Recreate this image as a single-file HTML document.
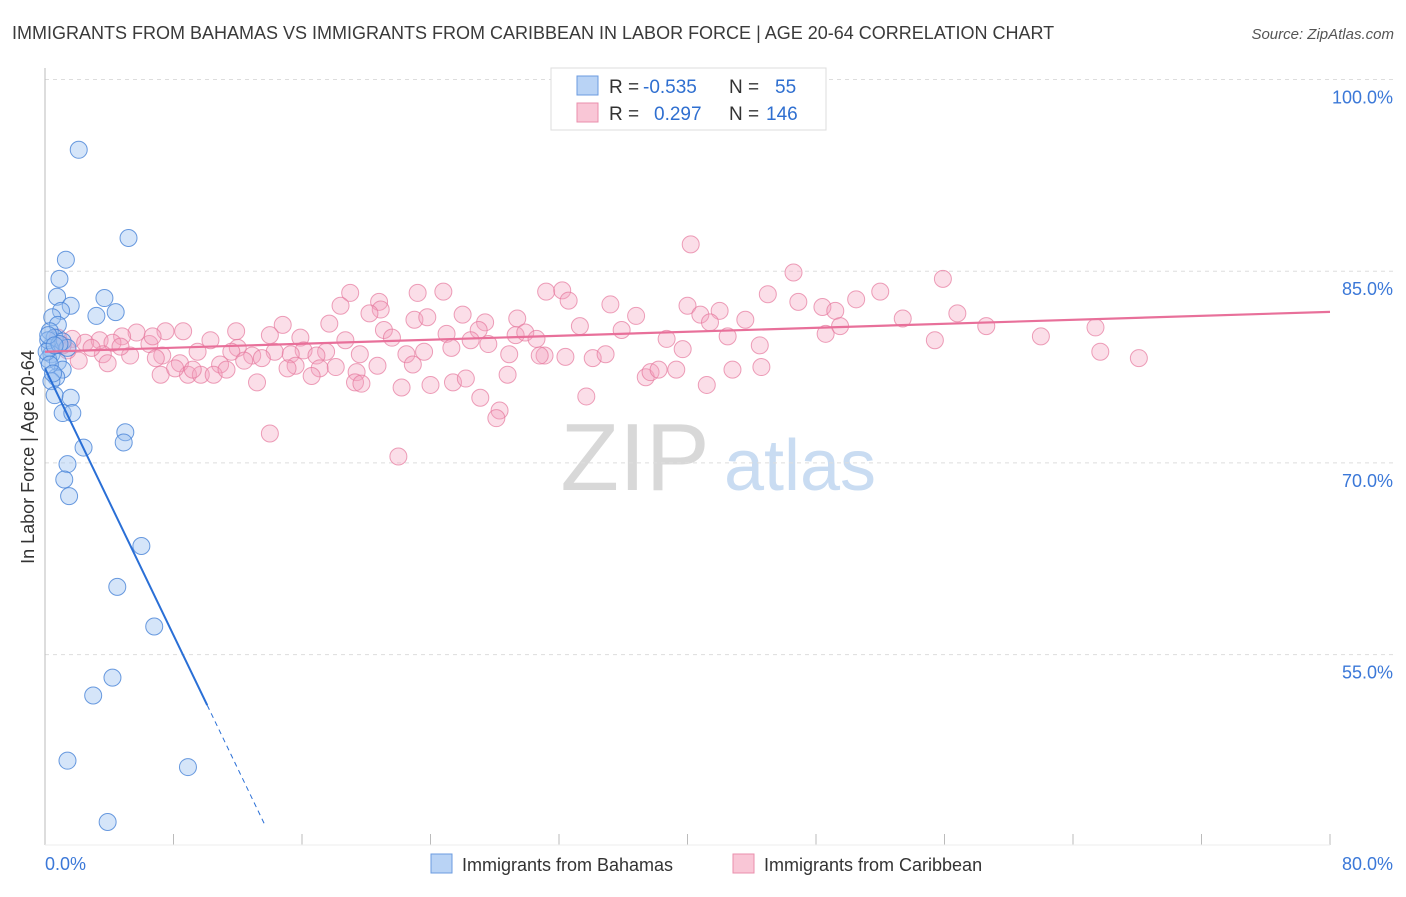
<!DOCTYPE html>
<html><head><meta charset="utf-8"><style>
body{margin:0;background:#fff;font-family:"Liberation Sans",sans-serif}
svg text{font-family:"Liberation Sans",sans-serif}
</style></head><body>
<svg id="chart" width="1406" height="892" viewBox="0 0 1406 892" xmlns="http://www.w3.org/2000/svg">
<text x="12" y="39" font-size="18" fill="#3a3a3a">IMMIGRANTS FROM BAHAMAS VS IMMIGRANTS FROM CARIBBEAN IN LABOR FORCE | AGE 20-64 CORRELATION CHART</text>
<text x="1394" y="39" font-size="15" fill="#555" font-style="italic" text-anchor="end">Source: ZipAtlas.com</text>
<g>
<text x="635" y="490" font-size="96" fill="#d8d8d8" font-family="Liberation Serif" text-anchor="middle">ZIP</text>
<text x="800" y="490" font-size="72" fill="#c9dcf2" text-anchor="middle">atlas</text>
</g>
<g id="grid"></g>
<g id="axes"></g>
<g id="pts"></g>
<g id="lines"></g>
<text transform="translate(34,457) rotate(-90)" font-size="18" fill="#333" text-anchor="middle">In Labor Force | Age 20-64</text>
<g>
<rect x="551" y="68" width="275" height="62" fill="#fff" stroke="#ddd"/>
<rect x="577" y="76" width="21" height="19" fill="#b9d3f5" stroke="#6b9be0"/>
<rect x="577" y="103" width="21" height="19" fill="#f9c6d6" stroke="#ea8fac"/>
<text x="609" y="93" font-size="19" fill="#333">R = </text><text x="643" y="93" font-size="19" fill="#2f6fd0">-0.535</text>
<text x="729" y="93" font-size="19" fill="#333">N = </text><text x="775" y="93" font-size="19" fill="#2f6fd0">55</text>
<text x="609" y="120" font-size="19" fill="#333">R = </text><text x="654" y="120" font-size="19" fill="#2f6fd0">0.297</text>
<text x="729" y="120" font-size="19" fill="#333">N = </text><text x="766" y="120" font-size="19" fill="#2f6fd0">146</text>
</g>
<g>
<rect x="431" y="854" width="21" height="19" fill="#b9d3f5" stroke="#6b9be0"/>
<text x="462" y="871" font-size="18" fill="#333">Immigrants from Bahamas</text>
<rect x="733" y="854" width="21" height="19" fill="#f9c6d6" stroke="#ea8fac"/>
<text x="764" y="871" font-size="18" fill="#333">Immigrants from Caribbean</text>
</g>
</svg>
<script>
const yTicks=[100,85,70,55];
const xTickLabels=["0.0%","80.0%"];
const blueX=[2.1,5.2,1.3,0.9,0.75,3.7,1.6,4.4,1.0,3.2,0.45,0.8,0.3,0.6,1.1,0.3,1.4,0.4,0.2,0.8,1.1,0.7,0.4,0.6,1.6,1.1,1.7,5.0,4.9,2.4,1.4,1.2,1.5,6.0,4.5,6.8,4.2,3.0,1.4,8.9,3.9,0.2,0.1,0.3,0.9,0.5,0.2,0.6];
const blueY=[94.5,87.6,85.9,84.4,83.0,82.9,82.3,81.8,81.9,81.5,81.4,80.8,80.3,79.8,79.5,79.0,79.0,78.5,78.1,77.9,77.3,76.7,76.4,75.3,75.1,73.9,73.9,72.4,71.6,71.2,69.9,68.7,67.4,63.5,60.3,57.2,53.2,51.8,46.7,46.2,41.9,79.6,78.7,77.7,79.3,77.0,80.0,79.2];
const pinkX=[40.2,46.6,55.9,19.0,23.2,24.8,31.2,32.2,32.6,20.8,20.9,20.2,18.4,35.2,36.8,40.0,40.8,42.0,45.0,46.9,48.4,50.5,52.0,49.2,56.8,53.4,41.4,43.6,23.0,23.8,26.0,27.4,29.4,17.7,14.8,11.9,8.6,7.5,5.7,4.8,1.7,0.8,2.5,3.4,4.2,6.5,6.7,10.3,12.0,14.0,14.3,15.9,16.1,17.5,18.7,21.1,21.6,25.0,27.0,26.5,27.6,29.3,29.9,30.6,33.3,35.9,38.7,39.7,42.5,44.5,48.6,49.5,55.4,58.6,62.0,65.4,65.7,68.1,3.6,5.3,7.3,9.5,11.6,12.9,15.3,16.9,19.6,22.5,23.6,25.3,28.9,31.1,32.4,34.1,34.9,2.1,3.9,6.9,8.4,10.9,12.4,13.5,15.6,17.1,18.1,19.4,20.7,22.9,28.8,30.8,7.2,8.9,9.7,10.5,11.3,15.1,16.6,19.3,19.7,22.2,24.0,25.4,26.2,27.1,28.3,28.1,33.7,37.4,37.7,38.2,39.3,41.2,42.8,44.6,13.2,14.0,22.0,8.1,9.2,2.9,1.4,1.1,4.7];
const pinkY=[87.1,84.9,84.4,83.3,83.3,83.4,83.4,83.5,82.7,82.6,82.0,81.7,82.3,82.4,81.5,82.3,81.6,81.9,83.2,82.6,82.2,82.8,83.4,81.9,81.7,81.3,81.0,81.2,81.2,81.4,81.6,81.0,81.3,80.9,80.8,80.3,80.3,80.3,80.2,79.9,79.7,79.8,79.4,79.6,79.4,79.3,79.9,79.6,79.0,80.0,78.7,79.8,78.8,78.7,79.6,80.4,79.8,80.1,80.4,79.6,79.3,80.0,80.2,79.7,80.7,80.4,79.7,78.9,79.9,79.2,80.1,80.7,79.6,80.7,79.9,80.6,78.7,78.2,78.5,78.4,78.4,78.7,78.7,78.4,78.5,78.4,78.5,78.5,78.7,79.0,78.5,78.4,78.3,78.2,78.5,78.0,77.8,78.2,77.8,77.7,78.0,78.2,77.6,77.4,77.5,77.1,77.6,77.7,76.9,78.4,76.9,76.9,76.9,76.9,77.3,77.4,76.8,76.3,76.2,75.9,76.1,76.3,76.6,75.1,74.1,73.5,75.2,76.7,77.1,77.3,77.3,76.1,77.3,77.5,76.3,72.3,70.5,77.4,77.3,79.0,78.8,79.2,79.1];
const blueFit=[77.4,-2.61]; // intercept, slope
const pinkFit=[78.7,0.039];
const NS="http://www.w3.org/2000/svg";
const X0=45,X1=1330,YT=79.5,PXPER=12.78;
function sx(v){return X0+v*(X1-X0)/80;}
function sy(v){return YT+(100-v)*PXPER;}
function mk(tag,attrs,parent){const e=document.createElementNS(NS,tag);for(const k in attrs)e.setAttribute(k,attrs[k]);parent.appendChild(e);return e;}
const grid=document.getElementById('grid'),axes=document.getElementById('axes'),pts=document.getElementById('pts'),lines=document.getElementById('lines');
yTicks.forEach(t=>{
 const l=mk('line',{x1:X0,x2:1394,y1:sy(t),y2:sy(t),stroke:'#ddd','stroke-dasharray':'4,4'},grid);
 
 
 const tx=mk('text',{x:1393,y:sy(t)+24,'font-size':18,fill:'#3b78d8','text-anchor':'end'},grid);
 tx.textContent=t.toFixed(1)+'%';
 
 
});
const ya=mk('line',{x1:X0,x2:X0,y1:68,y2:845,stroke:'#bbb'},axes);


for(let i=0;i<=10;i++){
 const tk=mk('line',{x1:sx(i*8),x2:sx(i*8),y1:834,y2:845,stroke:'#bbb'},axes);
 
 
}
const xa=mk('line',{x1:X0,x2:X1,y1:845,y2:845,stroke:'#eee'},axes);


[[0,'start'],[80,'end']].forEach((p,i)=>{
 const t=mk('text',{x:i?1393:45,y:870,'font-size':18,fill:'#3b78d8','text-anchor':p[1]},axes);
 t.textContent=xTickLabels[i];
 
 
});
pinkX.forEach((x,i)=>{
 const c=mk('circle',{cx:sx(x),cy:sy(pinkY[i]),r:8.5,fill:'rgba(244,160,188,0.35)',stroke:'rgba(230,120,156,0.7)','stroke-width':1},pts);
 
 
});
blueX.forEach((x,i)=>{
 const c=mk('circle',{cx:sx(x),cy:sy(blueY[i]),r:8.5,fill:'rgba(150,190,240,0.4)',stroke:'rgba(70,130,215,0.8)','stroke-width':1},pts);
 
 
});
const bEnd=10.1,bDash=13.7;
const bl=mk('line',{x1:sx(0),y1:sy(blueFit[0]),x2:sx(bEnd),y2:sy(blueFit[0]+blueFit[1]*bEnd),stroke:'#2a6fd6','stroke-width':2},lines);


const bd=mk('line',{x1:sx(bEnd),y1:sy(blueFit[0]+blueFit[1]*bEnd),x2:sx(bDash),y2:sy(blueFit[0]+blueFit[1]*bDash),stroke:'#2a6fd6','stroke-width':1,'stroke-dasharray':'5,4'},lines);


const pl=mk('line',{x1:sx(0),y1:sy(pinkFit[0]),x2:sx(80),y2:sy(pinkFit[0]+pinkFit[1]*80),stroke:'#e8709a','stroke-width':2.2},lines);


</script>
</body></html>
